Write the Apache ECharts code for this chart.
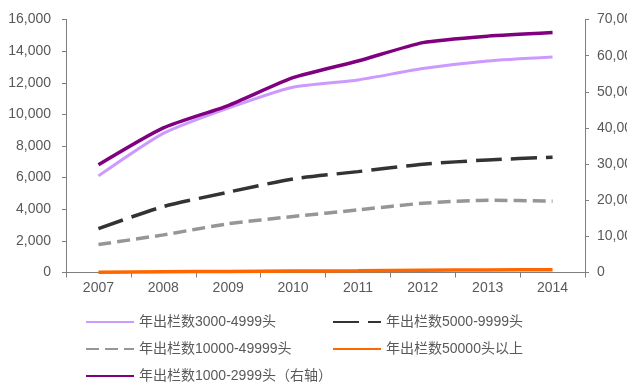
<!DOCTYPE html>
<html>
<head>
<meta charset="utf-8">
<script src="https://cdn.jsdelivr.net/npm/echarts@6/dist/echarts.min.js"></script>
<style>
html,body{margin:0;padding:0;background:#fff;overflow:hidden;}
#chart{width:627px;height:382px;}
</style>
</head>
<body>
<div id="chart"></div>
<script>
// Years on the category axis
const years = ['2007', '2008', '2009', '2010', '2011', '2012', '2013', '2014'];

// Farms by annual slaughter size (left axis)
const farms3000to4999 = [6110, 8800, 10400, 11720, 12180, 12900, 13380, 13630];
const farms5000to9999 = [2780, 4170, 5080, 5920, 6380, 6850, 7120, 7290];
const farms10000to49999 = [1770, 2380, 3080, 3540, 3960, 4380, 4570, 4510];
const farms50000plus = [20, 50, 70, 90, 110, 140, 160, 180];

// Farms 1000-2999 head (right axis)
const farms1000to2999 = [29800, 40000, 46200, 53900, 58500, 63600, 65400, 66400];

// Legend / series names
const names = [
  '年出栏数3000-4999头',
  '年出栏数5000-9999头',
  '年出栏数10000-49999头',
  '年出栏数50000头以上',
  '年出栏数1000-2999头（右轴）'
];

const textColor = '#595959';
const axisColor = '#7f7f7f';
const fontFamily = '"Liberation Sans", Arial, "Noto Sans CJK SC", sans-serif';

const fmt = v => v.toLocaleString('en-US');

function legendAt(name, left, top) {
  return {
    data: [name],
    left: left,
    top: top,
    itemWidth: 48,
    itemHeight: 12,
    itemGap: 6,
    itemStyle: { opacity: 0 },
    textStyle: { color: textColor, fontSize: 14, fontFamily: fontFamily },
    selectedMode: false
  };
}

const chart = echarts.init(document.getElementById('chart'));
chart.setOption({
  animation: false,
  grid: {
    left: 66, top: 19.5, width: 519, height: 253,
    containLabel: false,
    // keep the plot area fixed even though the right-axis labels run past the edge
    outerBoundsMode: 'none'
  },
  legend: [
    legendAt(names[0], 80, 310),
    legendAt(names[1], 327, 310),
    legendAt(names[2], 80, 337),
    legendAt(names[3], 327, 337),
    legendAt(names[4], 80, 364)
  ],
  xAxis: {
    type: 'category',
    data: years,
    boundaryGap: true,
    axisLine: { lineStyle: { color: axisColor, width: 1 } },
    axisTick: { show: true, length: 5, lineStyle: { color: axisColor } },
    axisLabel: { color: textColor, fontSize: 14, fontFamily: fontFamily, margin: 9 }
  },
  yAxis: [
    {
      type: 'value',
      min: 0, max: 16000, interval: 2000,
      axisLine: { show: true, lineStyle: { color: axisColor, width: 1 } },
      axisTick: { show: true, length: 4, lineStyle: { color: axisColor } },
      splitLine: { show: false },
      axisLabel: { color: textColor, fontSize: 14, fontFamily: fontFamily, margin: 15, formatter: fmt }
    },
    {
      type: 'value',
      min: 0, max: 70000, interval: 10000,
      position: 'right',
      axisLine: { show: true, lineStyle: { color: axisColor, width: 1 } },
      axisTick: { show: true, length: 4, lineStyle: { color: axisColor } },
      splitLine: { show: false },
      axisLabel: { color: textColor, fontSize: 14, fontFamily: fontFamily, margin: 12, formatter: fmt }
    }
  ],
  series: [
    {
      name: names[0], type: 'line', data: farms3000to4999, yAxisIndex: 0,
      symbol: 'none', smooth: 0.2,
      lineStyle: { color: '#cc99ff', width: 3 }, itemStyle: { color: '#cc99ff' }
    },
    {
      name: names[1], type: 'line', data: farms5000to9999, yAxisIndex: 0,
      symbol: 'none', smooth: 0.2,
      lineStyle: { color: '#333333', width: 3.5, type: [26, 9] }, itemStyle: { color: '#333333' }
    },
    {
      name: names[2], type: 'line', data: farms10000to49999, yAxisIndex: 0,
      symbol: 'none', smooth: 0.2,
      lineStyle: { color: '#969696', width: 3.5, type: [13, 6] }, itemStyle: { color: '#969696' }
    },
    {
      name: names[3], type: 'line', data: farms50000plus, yAxisIndex: 0,
      symbol: 'none', smooth: 0.2,
      lineStyle: { color: '#ff6600', width: 3.5 }, itemStyle: { color: '#ff6600' }
    },
    {
      name: names[4], type: 'line', data: farms1000to2999, yAxisIndex: 1,
      symbol: 'none', smooth: 0.2,
      lineStyle: { color: '#800080', width: 3.5 }, itemStyle: { color: '#800080' }
    }
  ]
});
</script>
</body>
</html>
